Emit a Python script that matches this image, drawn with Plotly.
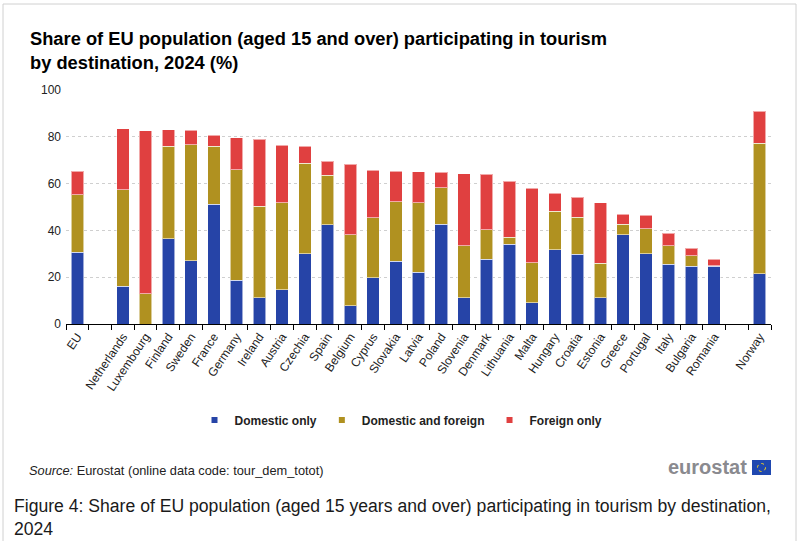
import plotly.graph_objects as go

# categories (blank strings keep the empty slots next to EU and Norway)
countries = [
    "EU", " ", "Netherlands", "Luxembourg", "Finland", "Sweden", "France", "Germany",
    "Ireland", "Austria", "Czechia", "Spain", "Belgium", "Cyprus", "Slovakia", "Latvia",
    "Poland", "Slovenia", "Denmark", "Lithuania", "Malta", "Hungary", "Croatia", "Estonia",
    "Greece", "Portugal", "Italy", "Bulgaria", "Romania", "  ", "Norway",
]
domestic_only = [
    30.6, None, 16.1, 0.0, 36.5, 27.1, 51.2, 18.8, 11.3, 14.7, 30.1, 42.5, 7.7, 19.8, 26.8,
    22.1, 42.7, 11.3, 27.7, 34.0, 9.0, 31.7, 29.8, 11.3, 38.1, 30.1, 25.6, 24.7, 24.7,
    None, 21.4,
]
domestic_and_foreign = [
    24.7, None, 41.3, 13.0, 39.4, 49.6, 24.8, 47.2, 39.0, 37.1, 38.5, 21.1, 30.5, 25.6, 25.5,
    29.8, 15.5, 22.1, 12.6, 3.1, 17.1, 16.4, 15.8, 14.7, 4.6, 10.7, 7.8, 4.4, 0.3,
    None, 55.8,
]
foreign_only = [
    10.0, None, 26.0, 69.6, 7.2, 6.1, 4.7, 13.7, 28.7, 24.6, 7.3, 6.0, 30.1, 20.4, 13.0,
    13.1, 6.7, 30.8, 23.6, 23.8, 32.0, 7.7, 8.5, 25.8, 4.1, 5.7, 5.3, 3.3, 2.6,
    None, 13.7,
]
y_ticks = [0, 20, 40, 60, 80, 100]

BLUE = "#2644A7"
GOLD = "#B09120"
RED = "#E04040"
FONT = "Liberation Sans, Arial, sans-serif"

W, H = 809, 541
L, R, T, B = 66, 38, 90, 217


def xp(px):
    return (px - L) / (W - L - R)


def yp(py):
    return (H - B - py) / (H - T - B)


series = [
    ("Domestic only", domestic_only, BLUE),
    ("Domestic and foreign", domestic_and_foreign, GOLD),
    ("Foreign only", foreign_only, RED),
]

fig = go.Figure()
for name, values, color in series:
    fig.add_trace(go.Bar(
        x=countries,
        y=values,
        name=name,
        showlegend=False,
        marker=dict(color=color, line=dict(color="rgba(255,255,255,0.55)", width=1)),
        hoverinfo="x+y+name",
    ))
    # small square legend marker, like the original
    fig.add_trace(go.Scatter(
        x=[None], y=[None], mode="markers", name=name,
        marker=dict(symbol="square", size=6, color=color),
    ))

fig.update_layout(
    width=W,
    height=H,
    barmode="stack",
    bargap=0.45,
    paper_bgcolor="white",
    plot_bgcolor="white",
    margin=dict(l=L, r=R, t=T, b=B),
    font=dict(family=FONT, size=12, color="#222222"),
    title=dict(
        text="Share of EU population (aged 15 and over) participating in tourism<br>by destination, 2024 (%)",
        font=dict(family=FONT, size=18.3, color="#000000", weight="bold"),
        x=30 / W, xanchor="left", xref="container",
        y=1 - 45 / H, yanchor="top", yref="container",
    ),
    legend=dict(
        orientation="h",
        traceorder="normal",
        x=xp(401), xanchor="center",
        y=yp(420), yanchor="middle",
        font=dict(family=FONT, size=12, color="#222222", weight="bold"),
        itemwidth=30,
        tracegroupgap=0,
    ),
    xaxis=dict(
        type="category",
        showgrid=False,
        showline=True,
        linecolor="#000000",
        linewidth=1,
        ticks="outside",
        tickson="boundaries",
        ticklen=5,
        tickcolor="#000000",
        tickangle=-56,
        tickfont=dict(family=FONT, size=12, color="#222222"),
        fixedrange=True,
    ),
    yaxis=dict(
        range=[0, 100],
        tickvals=y_ticks,
        showgrid=True,
        gridcolor="#cfcfcf",
        griddash="dot",
        gridwidth=1,
        zeroline=False,
        showline=False,
        ticks="",
        ticklabelstandoff=4,
        tickfont=dict(family=FONT, size=12, color="#222222"),
        fixedrange=True,
    ),
)

# frame around the whole figure
fig.add_shape(type="rect", xref="paper", yref="paper",
              x0=xp(3), x1=xp(796), y0=yp(560), y1=yp(4),
              line=dict(color="#d0d0d0", width=1), layer="below")

# source line
fig.add_annotation(
    text="<i>Source:</i> Eurostat (online data code: tour_dem_totot)",
    xref="paper", yref="paper", x=xp(27), y=yp(470),
    xanchor="left", yanchor="middle", showarrow=False,
    font=dict(family=FONT, size=12.8, color="#222222"),
)

# eurostat logo
fig.add_annotation(
    text="<b>eurostat</b>",
    xref="paper", yref="paper", x=xp(749), y=yp(467),
    xanchor="right", yanchor="middle", showarrow=False,
    font=dict(family=FONT, size=20, color="#8a8a8f"),
)
fig.add_shape(type="rect", xref="paper", yref="paper",
              x0=xp(752), x1=xp(771), y0=yp(475), y1=yp(460),
              fillcolor="#1f48b0", line=dict(width=0))
fig.add_shape(type="circle", xref="paper", yref="paper",
              x0=xp(757.5), x1=xp(765.5), y0=yp(471.5), y1=yp(463.5),
              line=dict(color="#f2d024", width=1, dash="dot"))

# figure caption below the chart
fig.add_annotation(
    text="Figure 4: Share of EU population (aged 15 years and over) participating in tourism by destination,<br>2024",
    xref="paper", yref="paper", x=xp(12), y=yp(494),
    xanchor="left", yanchor="top", align="left", showarrow=False,
    font=dict(family=FONT, size=17.6, color="#1a1a1a"),
)

# drop the browser's default 8px body margin so the figure sits at the page corner
fig.write_html(
    "out.html",
    config={"displayModeBar": False},
    post_script="document.body.style.margin='0';",
)
